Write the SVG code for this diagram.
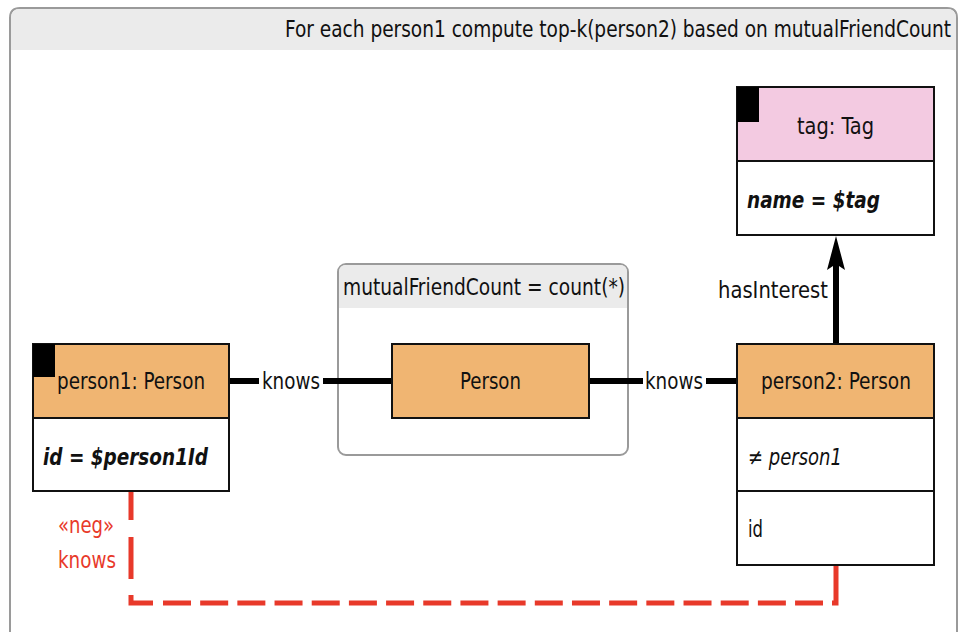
<svg xmlns="http://www.w3.org/2000/svg" width="959" height="632" viewBox="0 0 959 632">
<defs>
<style>
text{font-family:"DejaVu Sans Condensed","DejaVu Sans",sans-serif;font-size:23px;fill:#111}
.hdr{fill:#f0b572;stroke:#111;stroke-width:2}
.tag{fill:#f3cae1;stroke:#111;stroke-width:2}
.row{fill:#fff;stroke:#111;stroke-width:2}
.mk{fill:#000}
.bi{font-weight:bold;font-style:italic}
.it{font-style:italic}
.edge{stroke:#000;stroke-width:6;fill:none}
.neg{stroke:#e8392a;stroke-width:5;fill:none}
.red{fill:#e8392a}
</style>
</defs>
<rect width="959" height="632" fill="#fff"/>
<g id="frame">
<path d="M10,650 L10,18 Q10,8 20,8 L947,8 Q957,8 957,18 L957,650" fill="#fff" stroke="#9a9a9a" stroke-width="2"/>
<path d="M11,50 L11,18 Q11,9 20,9 L947,9 Q956,9 956,18 L956,50 Z" fill="#ebebeb"/>
<text x="285" y="37" textLength="666" lengthAdjust="spacingAndGlyphs">For each person1 compute top-k(person2) based on mutualFriendCount</text>
</g>
<g id="group">
<rect x="338" y="264" width="290" height="191" rx="8" fill="#fff" stroke="#9a9a9a" stroke-width="2"/>
<path d="M339,308 L339,272 Q339,265 346,265 L620,265 Q627,265 627,272 L627,308 Z" fill="#ebebeb"/>
<text x="343" y="295" textLength="282" lengthAdjust="spacingAndGlyphs">mutualFriendCount = count(*)</text>
</g>
<g id="connectors">
<line class="edge" x1="229" y1="381" x2="259" y2="381"/>
<line class="edge" x1="323" y1="381" x2="392" y2="381"/>
<text x="262" y="389" textLength="58" lengthAdjust="spacingAndGlyphs">knows</text>
<line class="edge" x1="589" y1="381" x2="643" y2="381"/>
<line class="edge" x1="706" y1="381" x2="737" y2="381"/>
<text x="645" y="389" textLength="58" lengthAdjust="spacingAndGlyphs">knows</text>
<line class="edge" x1="836" y1="344" x2="836" y2="262"/>
<polygon points="836,236 845,270 836,264 827,270" fill="#000"/>
<text x="718" y="298" textLength="110" lengthAdjust="spacingAndGlyphs">hasInterest</text>
<path class="neg" d="M131,492 L131,520 M131,537 L131,579 M131,595 L131,603 L153,603"/>
<path class="neg" d="M163,603 L823,603" stroke-dasharray="28 9.18"/>
<path class="neg" d="M832,603 L836,603 L836,566"/>
<text x="58" y="533" class="red" textLength="56" lengthAdjust="spacingAndGlyphs">«neg»</text>
<text x="58" y="568" class="red" textLength="58" lengthAdjust="spacingAndGlyphs">knows</text>
</g>
<g id="person1">
<rect class="hdr" x="33" y="344" width="196" height="74"/>
<rect class="row" x="33" y="418" width="196" height="73"/>
<rect class="mk" x="33" y="344" width="22" height="33"/>
<text x="57" y="389" textLength="148" lengthAdjust="spacingAndGlyphs">person1: Person</text>
<text x="43" y="465" class="bi" textLength="165" lengthAdjust="spacingAndGlyphs">id = $person1Id</text>
</g>
<g id="person">
<rect class="hdr" x="392" y="344" width="197" height="74"/>
<text x="460" y="389" textLength="61" lengthAdjust="spacingAndGlyphs">Person</text>
</g>
<g id="person2">
<rect class="hdr" x="737" y="344" width="197" height="74"/>
<rect class="row" x="737" y="418" width="197" height="73"/>
<rect class="row" x="737" y="491" width="197" height="74"/>
<text x="761" y="389" textLength="150" lengthAdjust="spacingAndGlyphs">person2: Person</text>
<text x="748" y="465" class="it" textLength="94" lengthAdjust="spacingAndGlyphs">≠ person1</text>
<text x="748" y="537" textLength="15" lengthAdjust="spacingAndGlyphs">id</text>
</g>
<g id="tag">
<rect class="tag" x="737" y="87" width="197" height="74"/>
<rect class="row" x="737" y="161" width="197" height="74"/>
<rect class="mk" x="737" y="87" width="22" height="35"/>
<text x="797" y="134" textLength="77" lengthAdjust="spacingAndGlyphs">tag: Tag</text>
<text x="747" y="208" class="bi" textLength="133" lengthAdjust="spacingAndGlyphs">name = $tag</text>
</g>
</svg>
